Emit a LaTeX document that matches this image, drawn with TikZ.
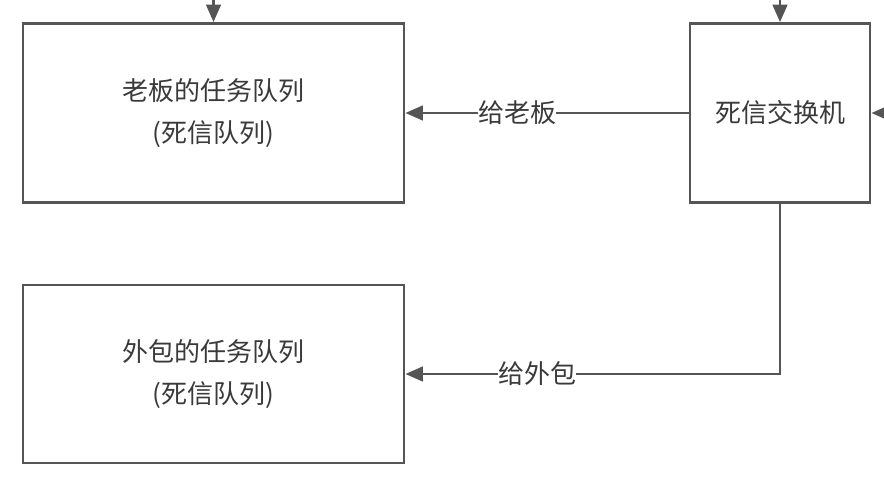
\documentclass[tikz,border=0pt]{standalone}
\usepackage{fontspec}
\setmainfont{Noto Sans CJK SC}
\usetikzlibrary{arrows.meta}
\definecolor{linegray}{HTML}{555555}
\definecolor{textgray}{HTML}{3A3A3A}
\begin{document}
\begin{tikzpicture}[x=0.75pt,y=-0.75pt,
  box/.style={draw=linegray,line width=2.2pt,fill=white,inner sep=0pt,align=center,
    text=textgray,font=\fontsize{19.5}{32}\selectfont},
  conn/.style={draw=linegray,line width=1.7pt,-{Triangle[length=13pt,width=11pt]}},
  lbl/.style={fill=white,inner sep=0pt,text=textgray,font=\fontsize{19.5}{22}\selectfont}]
\useasboundingbox (0,0) rectangle (884,478);
\clip (0,0) rectangle (884,478);
\node[box,minimum width=285.75pt,minimum height=134.25pt] (boss) at (213.5,113) {老板的任务队列\\(死信队列)};
\node[box,minimum width=135pt,minimum height=134.25pt] (ex) at (780,113) {死信交换机};
\node[box,minimum width=285.75pt,minimum height=133.5pt] (out) at (213.5,374) {外包的任务队列\\(死信队列)};
\coordinate (t1) at (213.5,-20);
\coordinate (t2) at (780,-20);
\coordinate (r1) at (910,113);
\draw[conn] (t1) -- (boss.north);
\draw[conn] (t2) -- (ex.north);
\draw[conn] (r1) -- (ex.east);
\draw[conn] (ex.west) -- node[lbl,pos=0.605] (l1) {给老板} (boss.east);
\draw[conn] (ex.south) |- node[lbl,pos=0.824] (l2) {给外包} (out.east);
\end{tikzpicture}
\end{document}
